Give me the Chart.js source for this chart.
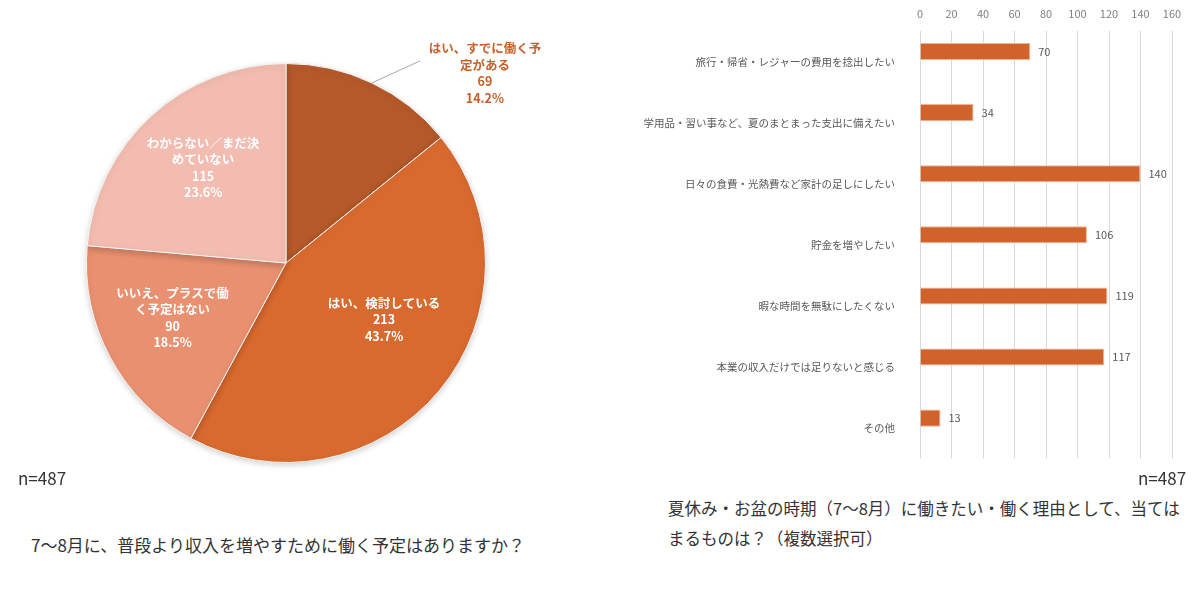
<!DOCTYPE html>
<html lang="ja">
<head>
<meta charset="utf-8">
<script src="https://cdn.jsdelivr.net/npm/chart.js@4.4.1/dist/chart.umd.min.js"></script>
<style>
  html, body { margin: 0; padding: 0; background: #fff; }
  body { width: 1198px; height: 601px; position: relative; overflow: hidden;
         font-family: "Noto Sans CJK JP", "Noto Sans", sans-serif; color: #333; }
  #pieBox { position: absolute; left: 0; top: 0; width: 620px; height: 475px; }
  #barBox { position: absolute; left: 640px; top: 2px; width: 558px; height: 480px; }
  .txt { position: absolute; white-space: nowrap; font-size: 17px; line-height: 30px; }
</style>
</head>
<body>
<div id="pieBox"><canvas id="pie"></canvas></div>
<div id="barBox"><canvas id="bar"></canvas></div>
<div class="txt" style="left:18px; top:463px;">n=487</div>
<div class="txt" style="left:31px; top:530px;">7～8月に、普段より収入を増やすために働く予定はありますか？</div>
<div class="txt" style="left:1138px; top:463px;">n=487</div>
<div class="txt" style="left:668px; top:493px; font-size:16.5px;">夏休み・お盆の時期（7～8月）に働きたい・働く理由として、当ては</div>
<div class="txt" style="left:668px; top:523px; font-size:16.5px;">まるものは？（複数選択可）</div>

<script>
// pie: 7~8月に働く予定
const pieLabels = [
  ['はい、すでに働く予', '定がある'],
  ['はい、検討している'],
  ['いいえ、プラスで働', 'く予定はない'],
  ['わからない／まだ決', 'めていない']
];
const pieValues = [69, 213, 90, 115];
const pieColors = ['#B5592A', '#D96A2F', '#E8906F', '#F2BCB0'];

// bar: 働く理由
const reasonLabels = [
  '旅行・帰省・レジャーの費用を捻出したい',
  '学用品・習い事など、夏のまとまった支出に備えたい',
  '日々の食費・光熱費など家計の足しにしたい',
  '貯金を増やしたい',
  '暇な時間を無駄にしたくない',
  '本業の収入だけでは足りないと感じる',
  'その他'
];
const reasonValues = [70, 34, 140, 106, 119, 117, 13];
const barColor = '#D0622C';

const FONT = '"Noto Sans CJK JP", "Noto Sans", sans-serif';
const total = pieValues.reduce((a, b) => a + b, 0);

// draws the labels in / next to each slice
const pieLabelPlugin = {
  id: 'pieLabels',
  afterDatasetsDraw(chart) {
    const ctx = chart.ctx;
    const meta = chart.getDatasetMeta(0);
    // small nudges so the text sits where the original put it
    const shift = [[0, 0], [6, -20], [-8, -2], [-2, -7]];
    ctx.save();
    ctx.font = 'bold 12.5px ' + FONT;
    ctx.textAlign = 'center';
    ctx.textBaseline = 'middle';
    meta.data.forEach((arc, i) => {
      const p = arc.getProps(['x', 'y', 'startAngle', 'endAngle', 'outerRadius'], true);
      const mid = (p.startAngle + p.endAngle) / 2;
      const pct = (pieValues[i] / total * 100).toFixed(1) + '%';
      const lines = pieLabels[i].concat([String(pieValues[i]), pct]);
      const lh = 16.5;
      if (i === 0) {
        // outside label with leader line
        const ex = p.x + Math.cos(mid) * p.outerRadius;
        const ey = p.y + Math.sin(mid) * p.outerRadius;
        ctx.strokeStyle = '#a6a6a6';
        ctx.lineWidth = 1;
        ctx.beginPath();
        ctx.moveTo(ex, ey);
        ctx.lineTo(ex + 48, ey - 22);
        ctx.stroke();
        ctx.fillStyle = '#C8602A';
        const cx = ex + 113, cy = ey - 9.5;
        lines.forEach((t, k) => ctx.fillText(t, cx, cy - (lines.length - 1) * lh / 2 + k * lh));
      } else {
        const r = p.outerRadius * 0.6;
        const cx = p.x + Math.cos(mid) * r + shift[i][0];
        const cy = p.y + Math.sin(mid) * r + shift[i][1];
        ctx.fillStyle = '#ffffff';
        lines.forEach((t, k) => ctx.fillText(t, cx, cy - (lines.length - 1) * lh / 2 + k * lh));
      }
    });
    ctx.restore();
  }
};

// soft shadow under the pie
const pieShadow = {
  id: 'pieShadow',
  beforeDatasetsDraw(chart) {
    chart.ctx.save();
    chart.ctx.shadowColor = 'rgba(0,0,0,0.18)';
    chart.ctx.shadowBlur = 6;
    chart.ctx.shadowOffsetY = 2;
  },
  afterDatasetsDraw(chart) {
    chart.ctx.restore();
  }
};

new Chart(document.getElementById('pie'), {
  type: 'pie',
  data: {
    labels: pieLabels.map(l => l.join('')),
    datasets: [{
      data: pieValues,
      backgroundColor: pieColors,
      borderColor: '#f4f4f4',
      borderWidth: 1
    }]
  },
  options: {
    responsive: true,
    maintainAspectRatio: false,
    animation: false,
    layout: { padding: { left: 86, top: 63, right: 134, bottom: 12 } },
    plugins: { legend: { display: false }, tooltip: { enabled: false } }
  },
  plugins: [pieShadow, pieLabelPlugin]
});

// value labels at bar ends
const barValuePlugin = {
  id: 'barValues',
  afterDatasetsDraw(chart) {
    const ctx = chart.ctx;
    const meta = chart.getDatasetMeta(0);
    ctx.save();
    ctx.font = '11px ' + FONT;
    ctx.fillStyle = '#595959';
    ctx.textAlign = 'left';
    ctx.textBaseline = 'middle';
    meta.data.forEach((bar, i) => {
      ctx.fillText(String(reasonValues[i]), bar.x + 8, bar.y);
    });
    ctx.restore();
  }
};

new Chart(document.getElementById('bar'), {
  type: 'bar',
  data: {
    labels: reasonLabels,
    datasets: [
      {
        data: reasonValues,
        backgroundColor: barColor,
        borderColor: '#F1B48F',
        borderWidth: 1,
        categoryPercentage: 0.656,
        barPercentage: 0.85
      },
      {
        // empty companion series (keeps bars above the category centre like the original)
        data: reasonValues.map(() => null),
        backgroundColor: barColor,
        categoryPercentage: 0.656,
        barPercentage: 0.85
      }
    ]
  },
  options: {
    indexAxis: 'y',
    responsive: true,
    maintainAspectRatio: false,
    animation: false,
    layout: { padding: { left: 0, right: 26, top: 0, bottom: 5 } },
    scales: {
      x: {
        position: 'top',
        min: 0,
        max: 160,
        ticks: { stepSize: 20, color: '#7f7f7f', font: { size: 11, family: FONT }, padding: 11 },
        grid: { color: '#d9d9d9', lineWidth: 1, drawTicks: false },
        border: { display: false },
        afterFit: s => { s.height = 29; }
      },
      y: {
        ticks: { color: '#595959', font: { size: 10.5, family: FONT }, padding: 17 },
        grid: { display: false },
        border: { display: false },
        afterFit: s => { s.width = 280; }
      }
    },
    plugins: { legend: { display: false }, tooltip: { enabled: false } }
  },
  plugins: [barValuePlugin]
});
</script>
</body>
</html>
